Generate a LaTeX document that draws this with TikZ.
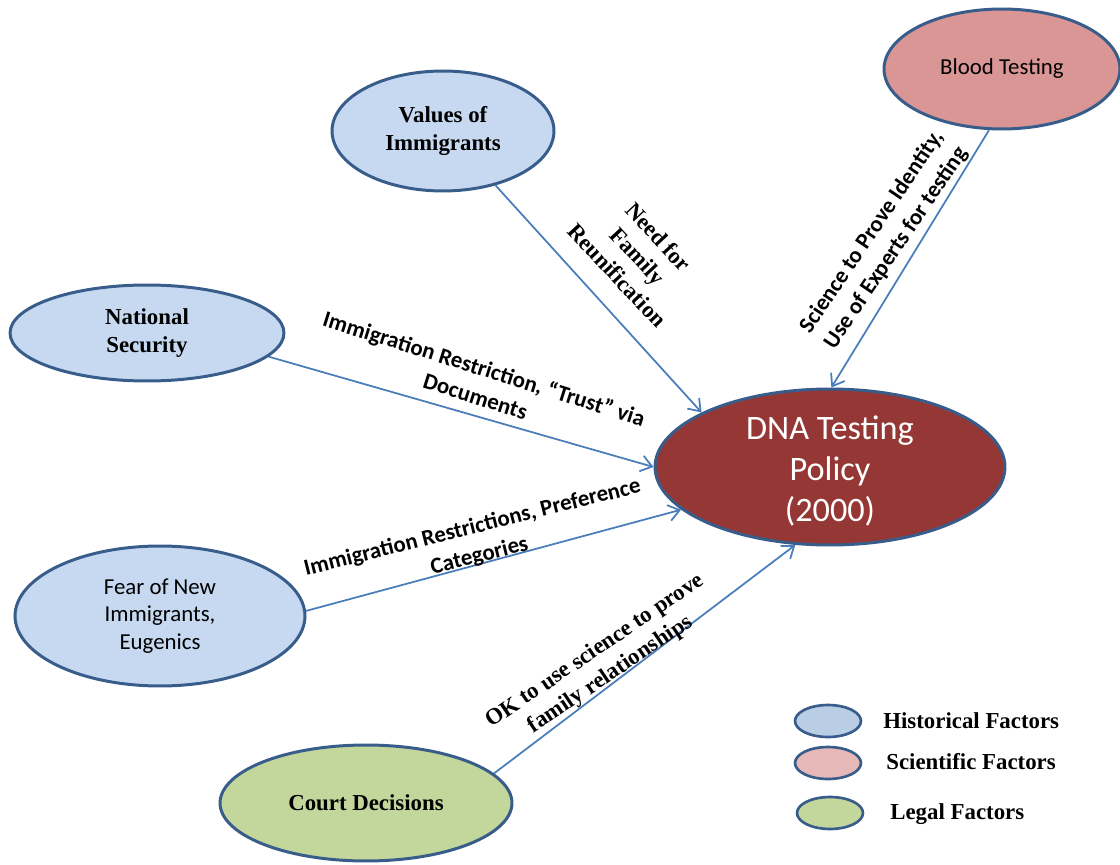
\documentclass[tikz,border=0pt]{standalone}
\usepackage{fontspec}
\setmainfont{Liberation Serif}
\newfontfamily\calibrifont{Carlito}
\usetikzlibrary{shapes.geometric,arrows.meta}
\definecolor{rimblue}{RGB}{56,93,138}
\definecolor{arrowblue}{RGB}{74,126,187}
\definecolor{histblue}{RGB}{198,217,240}
\definecolor{sciencepink}{RGB}{217,150,148}
\definecolor{lawgreen}{RGB}{195,214,155}
\definecolor{policyred}{RGB}{149,55,53}
\definecolor{keyblue}{RGB}{185,205,229}
\definecolor{keypink}{RGB}{230,185,184}
\tikzset{
	factor/.style={ellipse, draw=rimblue, line width=1.7pt, inner sep=0pt, align=center, font=\bfseries\fontsize{13}{15.8}\selectfont},
	factorsans/.style={factor, font=\calibrifont\fontsize{13}{15.8}\selectfont},
	influence/.style={draw=arrowblue, line width=1pt, -{Straight Barb[length=2.2mm,width=3.2mm]}},
	reason/.style={align=center, inner sep=0pt, font=\bfseries\fontsize{13}{16}\selectfont},
	reasonsans/.style={reason, font=\calibrifont\bfseries\fontsize{13}{16.5}\selectfont},
	keytext/.style={anchor=west, inner sep=0pt, font=\bfseries\fontsize{13}{15.6}\selectfont}
}

\begin{document}
\begin{tikzpicture}[x=0.02cm, y=-0.02cm]
	%%%%% START %%%%%
	\useasboundingbox (0,0) rectangle (1120,865);
	
	%%%%% FACTORS %%%%%
	\node[factor, fill=histblue, minimum width=4.44cm, minimum height=2.4cm] (values) at (443,131) {Values of\\Immigrants};
	\node[factorsans, fill=sciencepink, minimum width=4.72cm, minimum height=2.4cm] (blood) at (1002,69) {Blood Testing};
	\node[factor, fill=histblue, minimum width=5.48cm, minimum height=1.92cm] (natsec) at (147,333) {National\\Security};
	\node[factorsans, fill=histblue, minimum width=5.8cm, minimum height=2.8cm] (fear) at (160,616) {Fear of New\\Immigrants,\\Eugenics};
	\node[factor, fill=lawgreen, minimum width=5.84cm, minimum height=2.32cm] (court) at (366,803) {Court Decisions};
	
	\node[ellipse, draw=rimblue, line width=1.7pt, fill=policyred, minimum width=7cm, minimum height=3.12cm,
		label={[text=white, align=center, yshift=-0.08cm, font=\calibrifont\fontsize{19.5}{23.6}\selectfont]center:DNA Testing\\Policy\\(2000)}] (dna) at (830,467) {};
	
	%%%%% ARROWS %%%%%
	\draw[influence] (values.-46) -- (dna.157);
	\draw[influence] (blood.-102) -- (dna.89);
	\draw[influence] (natsec.-11) -- (dna.180);
	\draw[influence] (fear.2) -- (dna.196);
	\draw[influence] (court.13) -- (dna.-114);
	
	\node[reason, rotate=-47] (needlbl) at (638,256) {Need for\\Family\\Reunification};
	\node[reasonsans, rotate=56] (sciencelbl) at (884,240) {Science to Prove Identity,\\Use of Experts for testing};
	\node[reasonsans, rotate=-17.5] (trustlbl) at (480,382) {Immigration Restriction, “Trust” via\\Documents};
	\node[reasonsans, rotate=14] (preflbl) at (476,542) {Immigration Restrictions, Preference\\Categories};
	\node[reason, rotate=34] (courtlbl) at (603,663) {OK to use science to prove\\family relationships};
	
	%%%%% KEY %%%%%
	\node[factor, fill=keyblue, line width=1.5pt, minimum width=1.32cm, minimum height=0.64cm] (histkey) at (828,721) {};
	\node[factor, fill=keypink, line width=1.5pt, minimum width=1.32cm, minimum height=0.64cm] (scikey) at (828,763) {};
	\node[factor, fill=lawgreen, line width=1.5pt, minimum width=1.32cm, minimum height=0.64cm] (lawkey) at (830,813) {};
	\node[keytext] (histtxt) at (883,721) {Historical Factors};
	\node[keytext] (scitxt) at (886,762) {Scientific Factors};
	\node[keytext] (lawtxt) at (890,814) {Legal Factors};
	
	%%%%% END %%%%%
\end{tikzpicture}
\end{document}
